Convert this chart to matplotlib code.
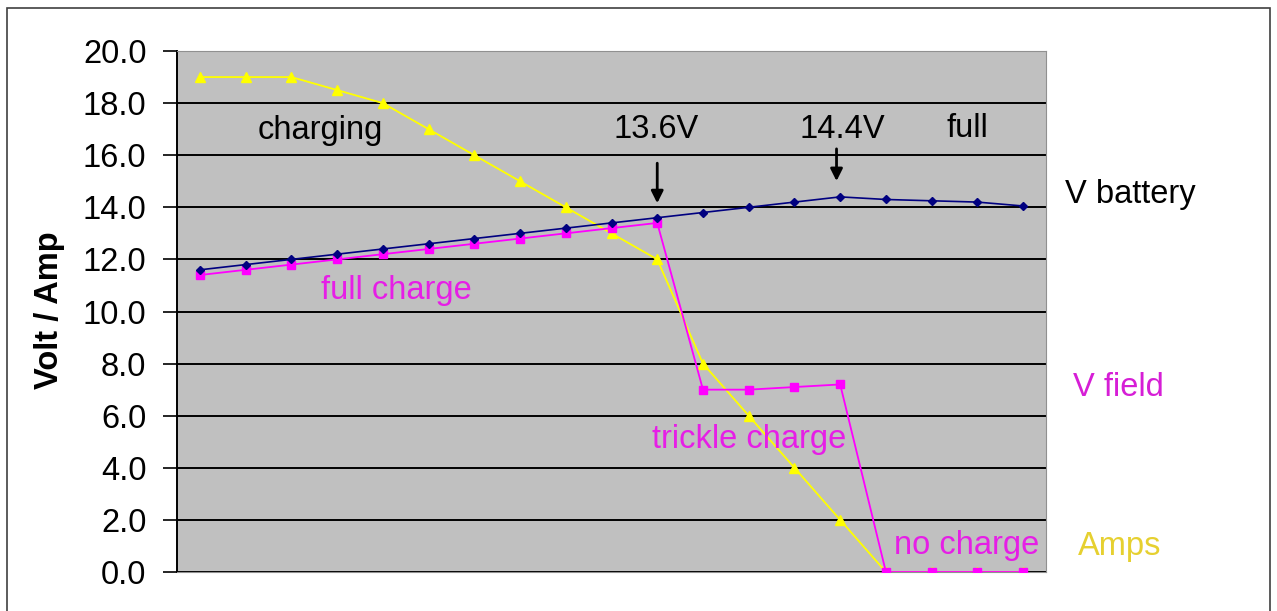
import matplotlib.pyplot as plt
from matplotlib.patches import Rectangle

plt.rcParams['font.family'] = ['Liberation Sans', 'DejaVu Sans']

# one sample per step along the charge cycle
steps = list(range(19))
v_battery = [11.6, 11.8, 12.0, 12.2, 12.4, 12.6, 12.8, 13.0, 13.2, 13.4,
             13.6, 13.8, 14.0, 14.2, 14.4, 14.3, 14.25, 14.2, 14.05]
v_field = [11.4, 11.6, 11.8, 12.0, 12.2, 12.4, 12.6, 12.8, 13.0, 13.2,
           13.4, 7.0, 7.0, 7.1, 7.2, 0.0, 0.0, 0.0, 0.0]
amps = [19.0, 19.0, 19.0, 18.5, 18.0, 17.0, 16.0, 15.0, 14.0, 13.0,
        12.0, 8.0, 6.0, 4.0, 2.0, 0.0, 0.0, 0.0, 0.0]
y_ticks = [0, 2, 4, 6, 8, 10, 12, 14, 16, 18, 20]

FS = 23.5

fig = plt.figure(figsize=(12.77, 6.11), dpi=100)
ax = fig.add_axes([177 / 1277, 1 - 572 / 611, (1046 - 177) / 1277, (572 - 51) / 611])
ax.set_facecolor('#c0c0c0')

# outer chart frame
fig.patches.append(Rectangle((7 / 1277, -0.02), (1270 - 7) / 1277, 1.02 - 8 / 611,
                             transform=fig.transFigure, fill=False,
                             edgecolor='#404040', linewidth=1.2))

ax.plot(steps, amps, color='#ffff00', marker='^', markersize=7, linewidth=1.3, zorder=3)
ax.plot(steps, v_field, color='#ff00ff', marker='s', markersize=6, linewidth=1.3, zorder=4)
ax.plot(steps, v_battery, color='#000080', marker='D', markersize=4.5, linewidth=1.2, zorder=5)

ax.set_xlim(-0.5, 18.5)
ax.set_ylim(0, 20)
ax.set_yticks(y_ticks)
ax.set_yticklabels([f'{v:.1f}' for v in y_ticks], fontsize=FS)
ax.set_xticks([])
ax.yaxis.grid(True, color='black', linewidth=1.4)
ax.set_axisbelow(True)
ax.tick_params(axis='y', length=10, width=1.2, pad=12, color='black')
for side in ['top', 'right', 'bottom']:
    ax.spines[side].set_color('#909090')
ax.spines['left'].set_linewidth(1.4)

fig.text(0.039, 0.493, 'Volt / Amp', rotation=90, fontsize=FS, fontweight='bold',
         ha='center', va='center')

# annotations inside the plot
ax.text(2.63, 16.93, 'charging', fontsize=FS, ha='center', va='center')
ax.text(9.98, 16.97, '13.6V', fontsize=FS, ha='center', va='center')
ax.text(14.05, 16.97, '14.4V', fontsize=FS, ha='center', va='center')
ax.text(16.78, 17.04, 'full', fontsize=FS, ha='center', va='center')
ax.annotate('', xy=(10.0, 14.05), xytext=(10.0, 15.8),
            arrowprops=dict(arrowstyle='-|>', color='black', lw=2, mutation_scale=18))
ax.annotate('', xy=(13.92, 14.9), xytext=(13.92, 16.35),
            arrowprops=dict(arrowstyle='-|>', color='black', lw=2, mutation_scale=18))
ax.text(4.29, 10.79, 'full charge', fontsize=FS, color='#e61ee6', ha='center', va='center')
ax.text(12.01, 5.07, 'trickle charge', fontsize=FS, color='#e61ee6', ha='center', va='center')
ax.text(16.76, 1.0, 'no charge', fontsize=FS, color='#e61ee6', ha='center', va='center')

# series names to the right
fig.text(0.885, 1 - 195 / 611, 'V battery', fontsize=FS, ha='center', va='center')
fig.text(0.8755, 1 - 388 / 611, 'V field', fontsize=FS, color='#d61ed6', ha='center', va='center')
fig.text(0.877, 1 - 546 / 611, 'Amps', fontsize=FS, color='#e6d030', ha='center', va='center')

fig.savefig('out.png', dpi=100)
